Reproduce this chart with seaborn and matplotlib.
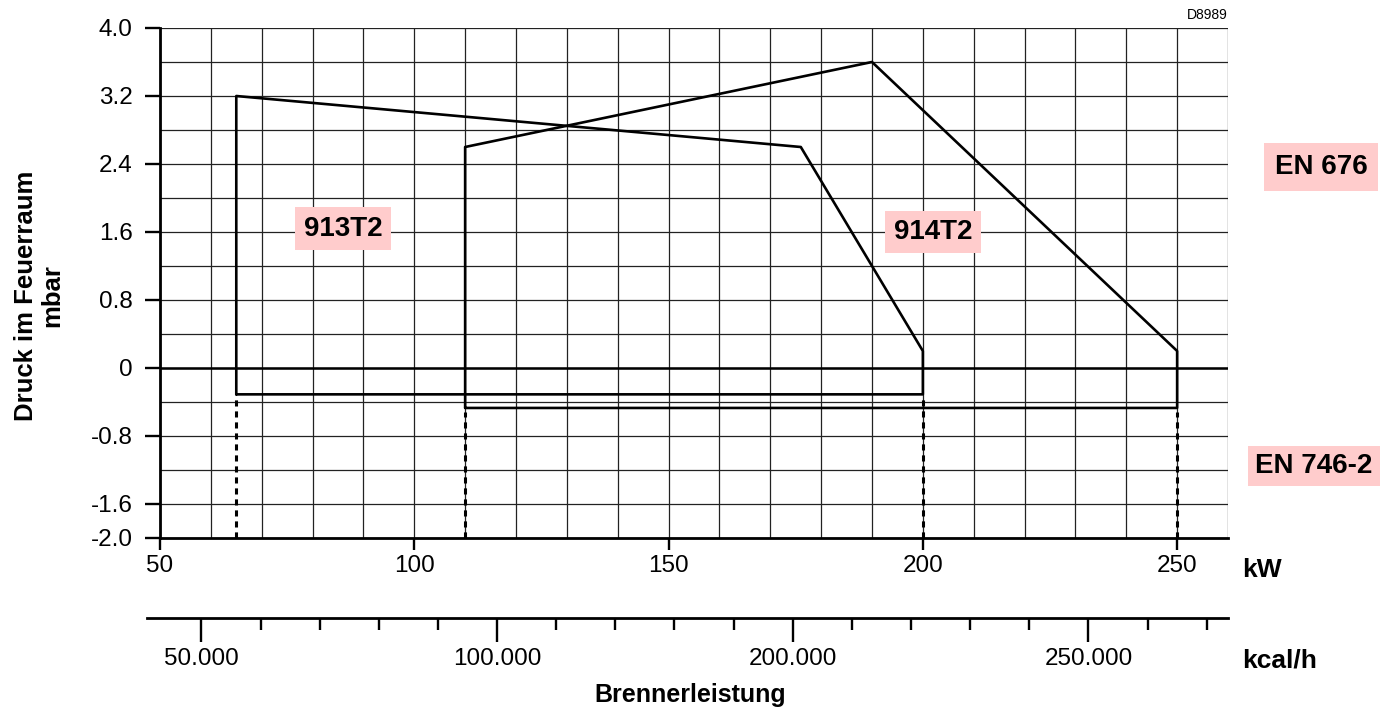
import matplotlib
matplotlib.use("Agg")
import matplotlib.pyplot as plt
from matplotlib.ticker import MultipleLocator, FixedLocator
import numpy as np
import pandas as pd
import seaborn as sns

sns.set_style("white")
plt.rcParams["font.family"] = ["Liberation Sans", "DejaVu Sans"]
plt.rcParams["text.color"] = "black"
plt.rcParams["xtick.color"] = "black"
plt.rcParams["ytick.color"] = "black"
plt.rcParams["axes.labelcolor"] = "black"

# burner envelopes (kW, mbar)
kw_913 = [65, 65, 176, 200, 200, 65]
mbar_913 = [-0.31, 3.2, 2.6, 0.2, -0.31, -0.31]
kw_914 = [110, 110, 190, 250, 250, 110]
mbar_914 = [-0.47, 2.6, 3.6, 0.2, -0.47, -0.47]

y_ticks = [4.0, 3.2, 2.4, 1.6, 0.8, 0, -0.8, -1.6, -2.0]
y_labels = ["4.0", "3.2", "2.4", "1.6", "0.8", "0", "-0.8", "-1.6", "-2.0"]
x_ticks = [50, 100, 150, 200, 250]
kcal_ticks = [50000, 100000, 150000, 200000]
kcal_labels = ["50.000", "100.000", "200.000", "250.000"]
KCAL_PER_KW = 860

pink = "#ffcccc"
W, H = 1391, 710

fig = plt.figure(figsize=(W / 100, H / 100), dpi=100)


def fx(px):
    return px / W


def fy(py):
    return 1 - py / H


ax = fig.add_axes([fx(160), fy(538), fx(1228) - fx(160), fy(28) - fy(538)])
ax.set_xlim(50, 260)
ax.set_ylim(-2.0, 4.0)

# grid
ax.xaxis.set_minor_locator(MultipleLocator(10))
ax.yaxis.set_minor_locator(MultipleLocator(0.4))
ax.grid(True, which="both", color="#222222", lw=0.9)
ax.set_axisbelow(True)

ax.set_xticks(x_ticks)
ax.set_xticklabels([str(v) for v in x_ticks])
ax.yaxis.set_major_locator(FixedLocator(y_ticks))
ax.set_yticklabels(y_labels)
ax.tick_params(axis="x", which="major", direction="out", length=8.6, width=1.7,
               labelsize=17.5, pad=4, bottom=True, color="black")
ax.tick_params(axis="y", which="major", direction="out", length=10.8, width=1.7,
               labelsize=17.5, pad=9, left=True, color="black")
ax.tick_params(which="minor", length=0)
for s in ["top", "right"]:
    ax.spines[s].set_visible(False)
for s in ["left", "bottom"]:
    ax.spines[s].set_color("black")
    ax.spines[s].set_linewidth(2.0)

ax.axhline(0, color="black", lw=1.8, zorder=3)

for kw, mb in [(kw_913, mbar_913), (kw_914, mbar_914)]:
    sns.lineplot(x=kw, y=mb, sort=False, estimator=None, color="black",
                 linewidth=1.9, ax=ax, zorder=4)
    bottom = min(mb)
    ax.vlines([min(kw), max(kw)], -2.0, bottom - 0.05, colors="black", linewidths=2.2,
              linestyles=(0, (2.0, 1.6)), zorder=4)

ax.set_xlabel("")
ax.set_ylabel("")

# series labels
box = dict(boxstyle="square,pad=0.3", facecolor=pink, edgecolor="none")
ax.text(86, 1.64, "913T2", fontsize=20, fontweight="bold", ha="center", va="center", bbox=box)
ax.text(202, 1.6, "914T2", fontsize=20, fontweight="bold", ha="center", va="center", bbox=box)

# kcal/h axis
kw_left = 50 - 13 / 5.08
ax2 = fig.add_axes([fx(147), fy(618), fx(1228) - fx(147), 0.0005])
ax2.set_xlim(kw_left * KCAL_PER_KW, 260 * KCAL_PER_KW)
ax2.set_yticks([])
ax2.set_facecolor("none")
for s in ["top", "right", "left"]:
    ax2.spines[s].set_visible(False)
ax2.spines["bottom"].set_color("black")
ax2.spines["bottom"].set_linewidth(2.0)
ax2.set_xticks(kcal_ticks)
ax2.set_xticklabels(kcal_labels)
ax2.xaxis.set_minor_locator(FixedLocator(list(range(50000, 230000, 10000))))
ax2.tick_params(axis="x", which="major", direction="out", length=17.3, width=1.7,
                labelsize=17.5, pad=4, bottom=True, color="black")
ax2.tick_params(axis="x", which="minor", direction="out", length=8.6, width=1.7,
                bottom=True, color="black")

# texts
fig.text(fx(1242), fy(570), "kW", fontsize=19, fontweight="bold", ha="left", va="center")
fig.text(fx(1242), fy(660), "kcal/h", fontsize=19, fontweight="bold", ha="left", va="center")
fig.text(fx(690), fy(695), "Brennerleistung", fontsize=18, fontweight="bold", ha="center", va="center")
fig.text(fx(1228), fy(15), "D8989", fontsize=10, ha="right", va="center")
fig.text(fx(39), fy(296), "Druck im Feuerraum\nmbar", fontsize=18.5, fontweight="bold",
         rotation=90, ha="center", va="center", multialignment="center", linespacing=1.1)
fig.text(fx(1321), fy(167), "EN 676", fontsize=20, fontweight="bold", ha="center", va="center",
         bbox=dict(boxstyle="square,pad=0.4", facecolor=pink, edgecolor="none"))
fig.text(fx(1314), fy(466), "EN 746-2", fontsize=20, fontweight="bold", ha="center", va="center",
         bbox=dict(boxstyle="square,pad=0.25", facecolor=pink, edgecolor="none"))

fig.savefig("out.png", dpi=100, facecolor="white")
